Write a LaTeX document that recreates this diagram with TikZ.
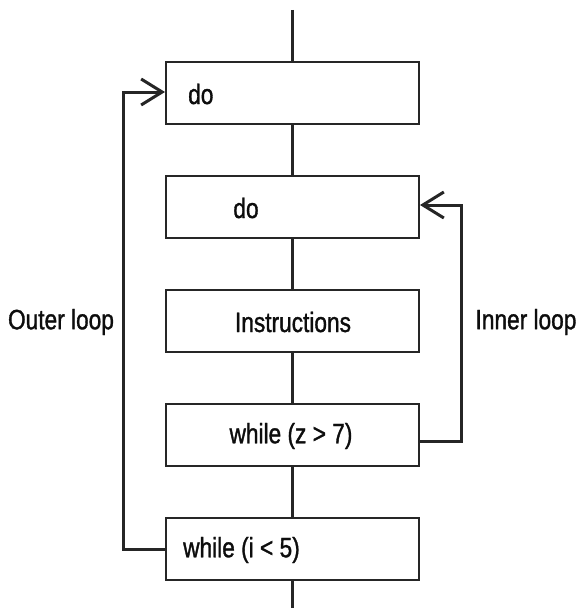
\documentclass[tikz,border=0pt]{standalone}
\usepackage{fontspec}
\setmainfont{Liberation Sans}[FakeStretch=0.81,FakeBold=1.2]
\usetikzlibrary{arrows.meta}
\begin{document}
\begin{tikzpicture}[x=1pt,y=-1pt,
  box/.style={draw=black!85,line width=2pt,fill=white,minimum width=253pt,minimum height=62pt,inner sep=0pt},
  txt/.style={font=\fontsize{28}{30}\selectfont,text=black!95,inner sep=0pt},
  conn/.style={draw=black!85,line width=2.7pt},
  loop/.style={draw=black!85,line width=3pt},
  barb/.style={-{Straight Barb[length=21pt,width=26pt]}}]
\useasboundingbox (0,0) rectangle (580,610);
\coordinate (top) at (292.5,10);
\coordinate (bot) at (292.5,608);
\node[box] (b1) at (292.5,93) {};
\node[box] (b2) at (292.5,207) {};
\node[box] (b3) at (292.5,321) {};
\node[box] (b4) at (292.5,435) {};
\node[box] (b5) at (292.5,549) {};
\node[txt,anchor=west] (t1) at (188,94) {do};
\node[txt] (t2) at (246,208) {do};
\node[txt] (t3) at (293,322) {Instructions};
\node[txt] (t4) at (291,436) {while (z > 7)};
\node[txt,anchor=west] (t5) at (183,550) {while (i < 5)};
\node[txt] (outer) at (61,322) {Outer loop};
\node[txt] (inner) at (526,322) {Inner loop};
\draw[conn] (top) -- (b1.north);
\draw[conn] (b1.south) -- (b2.north);
\draw[conn] (b2.south) -- (b3.north);
\draw[conn] (b3.south) -- (b4.north);
\draw[conn] (b4.south) -- (b5.north);
\draw[conn] (b5.south) -- (bot);
\draw[loop,barb] ([yshift=-6pt]b4.east) -| (461,205) -- ([yshift=2pt]b2.east);
\draw[loop,barb] (b5.west) -| (123,92) -- ([yshift=1pt]b1.west);
\end{tikzpicture}
\end{document}
